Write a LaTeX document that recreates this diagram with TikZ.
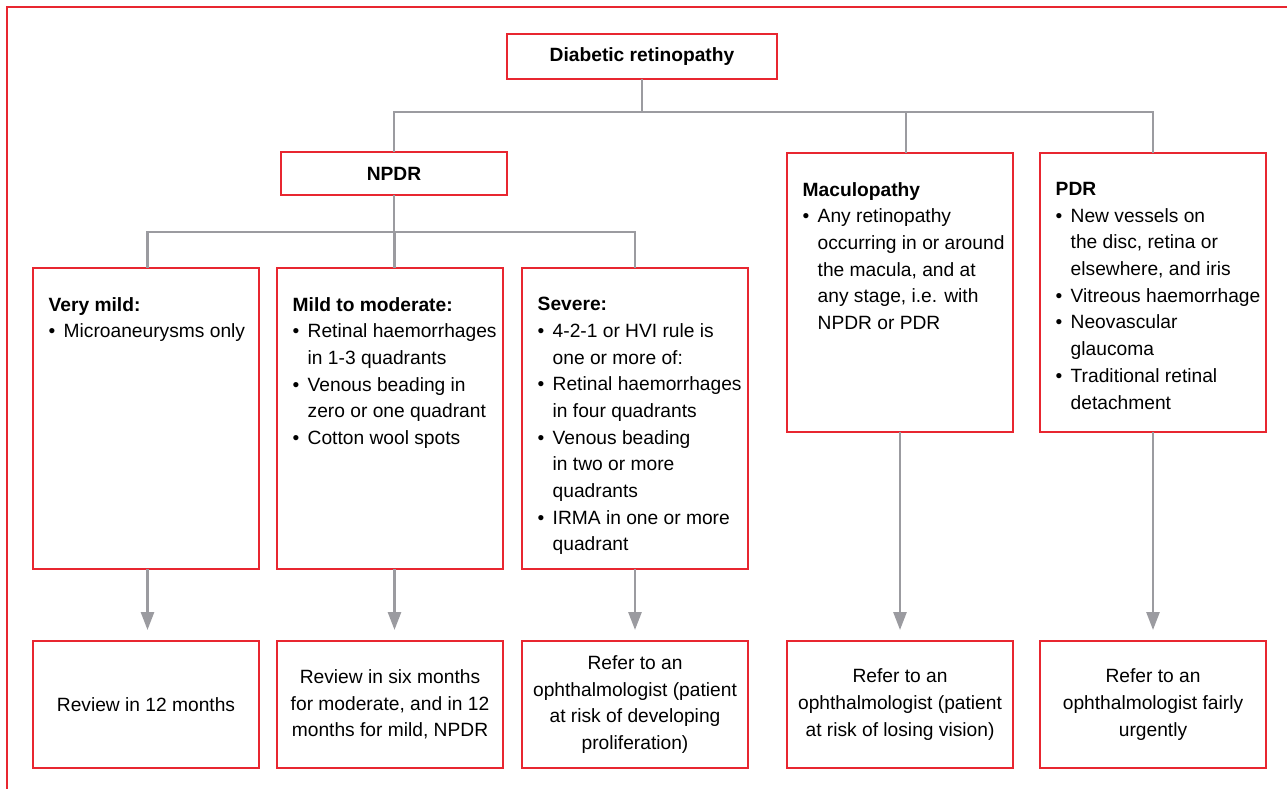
\documentclass[tikz,border=0pt]{standalone}
\usepackage{fontspec}
\setmainfont{Liberation Sans}
\usetikzlibrary{arrows.meta}
\definecolor{boxred}{RGB}{232,38,48}
\definecolor{lngray}{RGB}{155,155,160}
\newcommand\bul{\makebox[15pt][l]{\textbullet}}
\newcommand\ind{\hspace*{15pt}}
\begin{document}
\begin{tikzpicture}[x=1pt,y=-1pt,
  box/.style={draw=boxred, line width=1.6pt, anchor=north west, inner sep=0pt, outer sep=0pt, rectangle},
  conn/.style={draw=lngray, line width=2.7pt},
  arr/.style={conn, -{Triangle[length=18pt,width=13pt]}, shorten >=11pt},
  txt/.style={anchor=north west, inner sep=0pt, align=left, font=\fontsize{19.2pt}{26.7pt}\selectfont},
  ctr/.style={align=center, font=\fontsize{19.2pt}{26.7pt}\selectfont},
  wbox/.style={box, minimum width=226pt},
]
\useasboundingbox (0,0) rectangle (1287,789);
\draw[draw=boxred, line width=1.6pt] (1295,7) -- (7,7) -- (7,795);

% top level
\node[box, minimum width=270pt, minimum height=45pt, ctr] (dr) at (507,34) {\textbf{Diabetic retinopathy}};
\node[box, minimum width=226pt, minimum height=43pt, ctr] (npdr) at (281,152) {\textbf{NPDR}};
\node[wbox, minimum height=279pt] (mac) at (787,153) {};
\node[wbox, minimum height=279pt] (pdr) at (1040,153) {};

% second level
\node[wbox, minimum height=301pt] (vm) at (33,268) {};
\node[wbox, minimum height=301pt] (mm) at (277,268) {};
\node[wbox, minimum height=301pt] (sv) at (522,268) {};

% texts
\node[txt] (vmt) at (48.5,297) {\textbf{Very mild:}\\ \bul Microaneurysms only};
\node[txt] (mmt) at (292.5,297) {\textbf{Mild to moderate:}\\ \bul Retinal haemorrhages\\ \ind in 1-3 quadrants\\ \bul Venous beading in\\ \ind zero or one quadrant\\ \bul Cotton wool spots};
\node[txt] (svt) at (537.5,297) {\textbf{Severe:}\\ \bul 4-2-1 or HVI rule is\\ \ind one or more of:\\ \bul Retinal haemorrhages\\ \ind in four quadrants\\ \bul Venous beading\\ \ind in two or more\\ \ind quadrants\\ \bul IRMA in one or more\\ \ind quadrant};
\node[txt] (mact) at (802.5,182) {\textbf{Maculopathy}\\ \bul Any retinopathy\\ \ind occurring in or around\\ \ind the macula, and at\\ \ind any stage, i.e. with\\ \ind NPDR or PDR};
\node[txt] (pdrt) at (1055.5,182) {\textbf{PDR}\\ \bul New vessels on\\ \ind the disc, retina or\\ \ind elsewhere, and iris\\ \bul Vitreous haemorrhage\\ \bul Neovascular\\ \ind glaucoma\\ \bul Traditional retinal\\ \ind detachment};

% bottom boxes
\node[wbox, minimum height=127pt, ctr] (vmb) at (33,641) {Review in 12 months};
\node[wbox, minimum height=127pt, ctr] (mmb) at (277,641) {Review in six months\\for moderate, and in 12\\months for mild, NPDR};
\node[wbox, minimum height=127pt, ctr] (svb) at (522,641) {Refer to an\\ophthalmologist (patient\\at risk of developing\\proliferation)};
\node[wbox, minimum height=127pt, ctr] (macb) at (787,641) {Refer to an\\ophthalmologist (patient\\at risk of losing vision)};
\node[wbox, minimum height=127pt, ctr] (pdrb) at (1040,641) {Refer to an\\ophthalmologist fairly\\urgently};

% connectors level 1
\coordinate (j1) at (642,112);
\draw[conn] (dr.south) -- (dr.south |- j1);
\draw[conn] (npdr.north) -- (npdr.north |- j1) -- (pdr.north |- j1) -- (pdr.north);
\draw[conn] ([xshift=6pt]mac.north |- j1) -- ([xshift=6pt]mac.north);

% connectors level 2
\coordinate (j2) at (394,232);
\draw[conn] (npdr.south) -- (npdr.south |- j2);
\draw[conn] ([xshift=1.5pt]vm.north) -- ([xshift=1.5pt]vm.north |- j2) -- (sv.north |- j2) -- (sv.north);
\draw[conn] ([xshift=4.5pt]mm.north) -- ([xshift=4.5pt]mm.north |- j2);

% arrows
\draw[arr] ([xshift=1.5pt]vm.south) -- ([xshift=1.5pt]vmb.north);
\draw[arr] ([xshift=4.5pt]mm.south) -- ([xshift=4.5pt]mmb.north);
\draw[arr] (sv.south) -- (svb.north);
\draw[arr] (mac.south) -- (macb.north);
\draw[arr] (pdr.south) -- (pdrb.north);
\end{tikzpicture}
\end{document}
